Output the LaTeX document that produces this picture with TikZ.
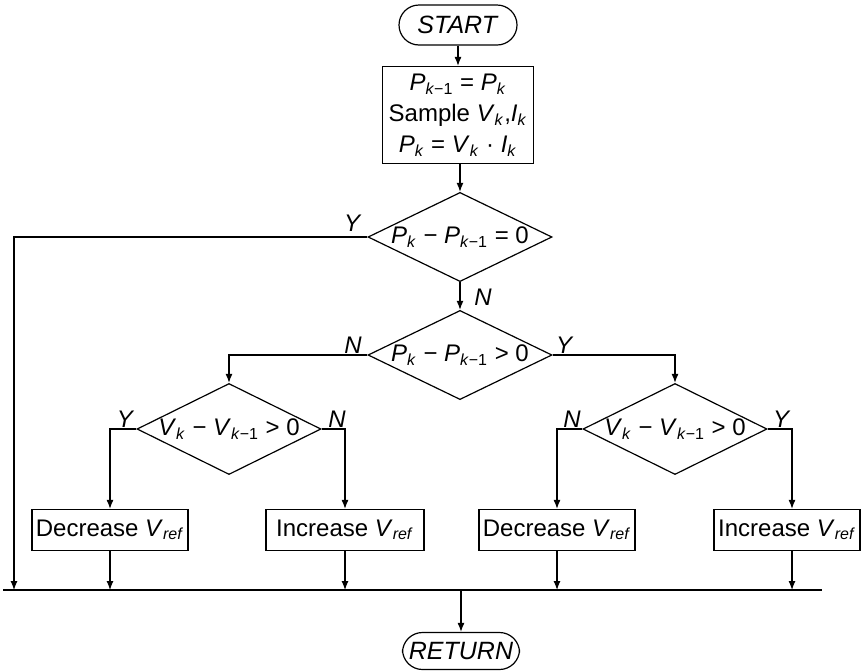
\documentclass[tikz,border=0pt]{standalone}
\usepackage{fontspec}
\setmainfont{Liberation Sans}
\usetikzlibrary{shapes.geometric,arrows.meta}
\newcommand{\vv}[2]{\textit{#1}\textsubscript{\textit{#2}}}
\newcommand{\km}{\textsubscript{\textit{k}−1}}
\begin{document}
\begin{tikzpicture}[x=0.5pt,y=-0.5pt, line width=0.6pt,
  every node/.style={font=\fontsize{12}{14}\selectfont},
  arr/.style={-{Latex[length=4.5pt,width=3.5pt]}},
  term/.style={draw, rounded corners=10pt, minimum width=59pt, minimum height=20pt, inner sep=0pt, font=\fontsize{12.5}{14}\selectfont},
  procbox/.style={draw, minimum height=20.5pt, inner sep=1pt},
  dec/.style={draw, diamond, minimum width=92pt, minimum height=43.5pt, inner sep=0pt, aspect=2},
  lbl/.style={font=\fontsize{12}{14}\selectfont\itshape, inner sep=0pt}]
\useasboundingbox (0,0) rectangle (862,670);

\node[term] (start) at (458,25) {\textit{START}};
\node[procbox, minimum width=75.5pt, minimum height=48.5pt, align=center] (init) at (458,115)
  {\textit{P}\km{} = \vv{P}{k}\\[1.5pt] Sample \vv{V}{k},\vv{I}{k}\\[1.5pt] \vv{P}{k} = \vv{V}{k} · \vv{I}{k}};
\node[dec] (d1) at (460,237) {\vv{P}{k} − \textit{P}\km{} = 0};
\node[dec] (d2) at (460,355) {\vv{P}{k} − \textit{P}\km{} > 0};
\node[dec] (d3) at (229,429) {\vv{V}{k} − \textit{V}\km{} > 0};
\node[dec] (d4) at (675,429) {\vv{V}{k} − \textit{V}\km{} > 0};
\node[procbox, minimum width=78pt] (dec1) at (110,530) {Decrease \vv{V}{ref}};
\node[procbox, minimum width=79pt] (inc1) at (345,530) {Increase \vv{V}{ref}};
\node[procbox, minimum width=78pt] (dec2) at (557,530) {Decrease \vv{V}{ref}};
\node[procbox, minimum width=73pt] (inc2) at (787,530) {Increase \vv{V}{ref}};
\node[term, minimum width=58.5pt, minimum height=18.5pt] (ret) at (461,651) {\textit{RETURN}};

\coordinate (busL) at (3,590);
\coordinate (busR) at (822,590);
\coordinate (lft) at (14,590);
\coordinate (c4) at (792,590);
\coordinate (cr) at (461,590);

\draw[arr] (start) -- (init);
\draw[arr] (init.south -| d1) -- (d1);
\draw[arr] (d1) -- (d2);
\draw[arr] (d1.west) -| (lft);
\draw (busL) -- (busR);
\draw[arr] (d2.west) -| (d3.north);
\draw[arr] (d2.east) -| (d4.north);
\draw[arr] (d3.west) -| (dec1.north);
\draw[arr] (d3.east) -| (inc1.north);
\draw[arr] (d4.west) -| (dec2.north);
\draw[arr] (d4.east) -| (inc2.north -| c4);
\draw[arr] (dec1) -- (dec1.south |- busL);
\draw[arr] (inc1) -- (inc1.south |- busL);
\draw[arr] (dec2) -- (dec2.south |- busL);
\draw[arr] (inc2.south -| c4) -- (c4);
\draw[arr] (cr) -- (ret);

\node[lbl] (l1) at (352,223) {Y};
\node[lbl] (l2) at (483,297) {N};
\node[lbl] (l3) at (353,345) {N};
\node[lbl] (l4) at (564,345) {Y};
\node[lbl] (l5) at (125,419) {Y};
\node[lbl] (l6) at (337,419) {N};
\node[lbl] (l7) at (572,419) {N};
\node[lbl] (l8) at (781,419) {Y};
\end{tikzpicture}
\end{document}
